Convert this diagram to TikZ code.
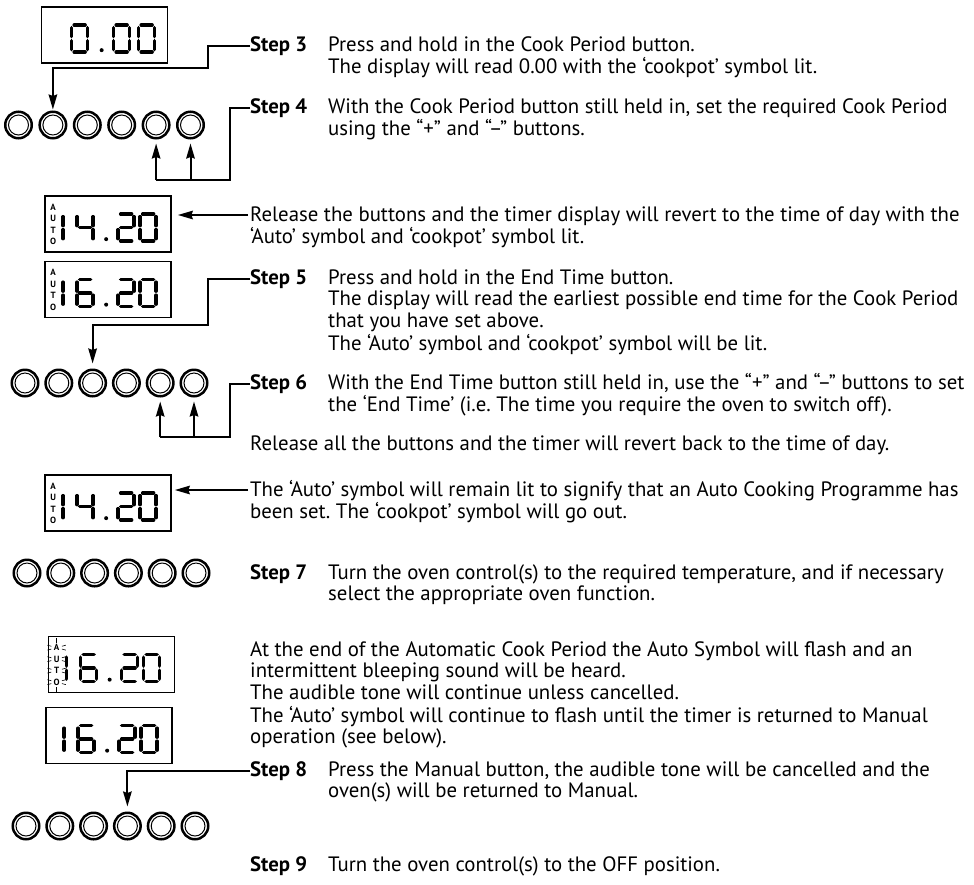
\documentclass[tikz,border=0pt]{standalone}
\usepackage{fontspec}
\setmainfont{PT Sans}
\usetikzlibrary{arrows.meta,positioning,calc}
\frenchspacing

\newcommand{\bodyfont}{\fontsize{20.8}{21.7}\selectfont}
\newcommand{\lines}[1]{\begin{tabular}[t]{@{}l@{}}#1\end{tabular}}

\tikzstyle{display} = [draw,line width=1.7pt,minimum width=126pt,minimum height=56pt,inner sep=0pt]
\tikzstyle{button} = [circle,draw,line width=2.5pt,minimum size=26.5pt,inner sep=0pt,
  path picture={\draw[line width=1pt] (path picture bounding box.center) circle (10pt);}]
\tikzstyle{lcd seg} = [line width=3.4pt,line cap=round]
\tikzstyle{auto letter} = [font=\fontsize{9}{9}\selectfont\bfseries,inner sep=0pt]
\tikzstyle{flash} = [line width=0.6pt]
\tikzstyle{wire} = [draw,line width=2pt]
\tikzstyle{pointer} = [wire,-{Stealth[length=15pt,width=8.5pt,inset=1.5pt]}]
\tikzstyle{steplabel} = [anchor=base west,inner sep=0pt,font=\bodyfont\bfseries]
\tikzstyle{info} = [anchor=base west,inner sep=0pt,font=\bodyfont]

% segments of one lcd digit, 16 wide and 27 high
\def\lcdsega{(2.5,0) -- (13.5,0)}
\def\lcdsegb{(16,2.5) -- (16,11.5)}
\def\lcdsegc{(16,15.5) -- (16,24.5)}
\def\lcdsegd{(2.5,27) -- (13.5,27)}
\def\lcdsege{(0,15.5) -- (0,24.5)}
\def\lcdsegf{(0,2.5) -- (0,11.5)}
\def\lcdsegg{(2.5,13.5) -- (13.5,13.5)}
\def\done{b,c}
\def\dtwo{a,b,g,e,d}
\def\dfour{f,g,b,c}
\def\dsix{a,f,g,e,d,c}
\def\dzero{a,b,c,d,e,f}

\newcommand{\lcd}[3]{% display, x offset, segments
  \foreach \s in #3 {\draw[lcd seg,shift={($(#1.north west)+(#2,19)$)}] \csname lcdseg\s\endcsname;}}
\newcommand{\lcdtime}[4]{% display, hour, tens, units
  \lcd{#1}{3}{\done}
  \lcd{#1}{33}{#2}
  \fill ($(#1.north west)+(62,44)$) circle (2pt);
  \lcd{#1}{74}{#3}
  \lcd{#1}{96}{#4}}

\begin{document}
\begin{tikzpicture}[x=1pt,y=-1pt,font=\bodyfont]
\useasboundingbox (0,0) rectangle (974,884);

% displays
\foreach \name/\pos in {d1/{(104.5,35)}, d2/{(108,224)}, d3/{(108,289.5)},
                        d4/{(108,503)}, d5/{(111.5,664.5)}, d6/{(109,735.5)}}{
  \node[display] (\name) at \pos {};
}
\lcd{d1}{31}{\dzero}
\fill ($(d1.north west)+(61,44)$) circle (2pt);
\lcd{d1}{73}{\dzero}
\lcd{d1}{98}{\dzero}
\lcdtime{d2}{\dfour}{\dtwo}{\dzero}
\lcdtime{d3}{\dsix}{\dtwo}{\dzero}
\lcdtime{d4}{\dfour}{\dtwo}{\dzero}
\lcdtime{d5}{\dsix}{\dtwo}{\dzero}
\lcdtime{d6}{\dsix}{\dtwo}{\dzero}
\foreach \d in {d2,d3,d4,d5}{
  \foreach \l [count=\i] in {A,U,T,O}
    \node[auto letter] (\d\l) at ($(\d.north west)+(9,0.5+11.5*\i)$) {\l};
}
% flashing auto symbol
\foreach \l in {A,U,T,O}{
  \foreach \a in {15,165,195,345}
    \draw[flash] (d5\l) ++(\a:5.5) -- ++(\a:4);
}
\draw[flash] (d5A.north) ++(0,-1.5) -- ++(0,-5);
\draw[flash] (d5O.south) ++(0,1.5) -- ++(0,5);

% buttons
\foreach \row/\x/\y/\dx in {1/18.5/125/34.4, 2/25/383/33.8, 3/27/573/33.8, 4/26/826/33.8}{
  \foreach \i in {1,...,6}
    \node[button] (b\row\i) at ({\x+\dx*(\i-1)},\y) {};
}

% texts
\node[steplabel] (s3) at (250,51) {Step 3};
\node[info] (t3) at (328,51) {\lines{Press and hold in the Cook Period button.\\
  The display will read 0.00 with the ‘cookpot’ symbol lit.}};
\node[steplabel] (s4) at (250,113) {Step 4};
\node[info] (t4) at (328,113) {\lines{With the Cook Period button still held in, set the required Cook Period\\
  using the “+” and “–” buttons.}};
\node[info] (r2) at (250,221) {\lines{Release the buttons and the timer display will revert to the time of day with the\\
  ‘Auto’ symbol and ‘cookpot’ symbol lit.}};
\node[steplabel] (s5) at (250,284) {Step 5};
\node[info] (t5) at (328,284) {\lines{Press and hold in the End Time button.\\
  The display will read the earliest possible end time for the Cook Period\\
  that you have set above.\\
  The ‘Auto’ symbol and ‘cookpot’ symbol will be lit.}};
\node[steplabel] (s6) at (250,389) {Step 6};
\node[info] (t6) at (328,389) {\lines{With the End Time button still held in, use the “+” and “–” buttons to set\\
  the ‘End Time’ (i.e. The time you require the oven to switch off).}};
\node[info] (rall) at (250,450) {Release all the buttons and the timer will revert back to the time of day.};
\node[info] (r4) at (250,496) {\lines{The ‘Auto’ symbol will remain lit to signify that an Auto Cooking Programme has\\
  been set. The ‘cookpot’ symbol will go out.}};
\node[steplabel] (s7) at (250,579) {Step 7};
\node[info] (t7) at (328,579) {\lines{Turn the oven control(s) to the required temperature, and if necessary\\
  select the appropriate oven function.}};
\node[info] (r5) at (250,656) {\lines{At the end of the Automatic Cook Period the Auto Symbol will flash and an\\
  intermittent bleeping sound will be heard.\\
  The audible tone will continue unless cancelled.\\
  The ‘Auto’ symbol will continue to flash until the timer is returned to Manual\\
  operation (see below).}};
\node[steplabel] (s8) at (250,776) {Step 8};
\node[info] (t8) at (328,776) {\lines{Press the Manual button, the audible tone will be cancelled and the\\
  oven(s) will be returned to Manual.}};
\node[steplabel] (s9) at (250,871) {Step 9};
\node[info] (t9) at (328,871) {Turn the oven control(s) to the OFF position.};

% connectors
\coordinate (k4) at (230,180);
\coordinate (k6) at (230,437);
\coordinate (r2in) at ([shift={(-2pt,6pt)}]r2.base west);
\coordinate (r4in) at ([shift={(-2pt,6pt)}]r4.base west);
\draw[pointer,shorten >=1pt] (s3.west) -- ++(-42,0) -- ++(0,22) -| (b12.north);
\draw[wire] (s4.west) -| (k4) -- (b15 |- k4);
\draw[pointer,shorten >=6pt] (r2in) -- (d2.east |- r2in);
\draw[pointer,shorten >=5pt] (s5.west) -- ++(-42,0) -- ++(0,46) -| (b23.north);
\draw[wire] (s6.west) -| (k6) -- (b25 |- k6);
\draw[pointer,shorten >=3pt] (r4in) -- (d4.east |- r4in);
\draw[pointer,shorten >=5pt] (s8.west) -| (b44.north);
\foreach \b/\k in {b15/k4, b16/k4, b25/k6, b26/k6}
  \draw[pointer,shorten >=4pt] (\b |- \k) -- (\b.south);
\end{tikzpicture}
\end{document}
